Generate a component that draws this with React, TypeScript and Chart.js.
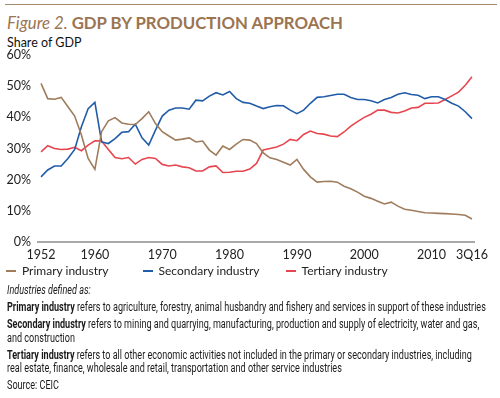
import React, { useEffect, useRef } from "react";
import { Chart, registerables } from "chart.js";

Chart.register(...registerables);

const categories: string[] = [
  "1952","1953","1954","1955","1956","1957","1958","1959","1960","1961",
  "1962","1963","1964","1965","1966","1967","1968","1969","1970","1971",
  "1972","1973","1974","1975","1976","1977","1978","1979","1980","1981",
  "1982","1983","1984","1985","1986","1987","1988","1989","1990","1991",
  "1992","1993","1994","1995","1996","1997","1998","1999","2000","2001",
  "2002","2003","2004","2005","2006","2007","2008","2009","2010","2011",
  "2012","2013","2014","2015","3Q16",
];

const xTickLabels: string[] = ["1952", "1960", "1970", "1980", "1990", "2000", "2010", "3Q16"];

const primaryIndustry: number[] = [
  50.9, 46.0, 45.8, 46.4, 43.4, 40.4, 34.3, 26.8, 23.3, 35.4,
  38.9, 39.9, 38.2, 37.8, 37.7, 39.6, 41.8, 38.0, 35.4, 34.0,
  32.7, 33.0, 33.4, 32.1, 32.4, 29.5, 27.9, 30.8, 29.7, 31.4,
  32.9, 32.7, 31.6, 28.6, 27.0, 26.5, 25.6, 24.7, 26.5, 23.3,
  20.9, 19.2, 19.4, 19.5, 19.2, 17.9, 17.1, 16.0, 14.7, 14.0,
  13.1, 12.2, 12.8, 11.5, 10.5, 10.2, 9.8, 9.4, 9.3, 9.2,
  9.1, 9.0, 8.8, 8.6, 7.4,
];

const secondaryIndustry: number[] = [
  20.9, 23.1, 24.4, 24.4, 26.8, 29.7, 37.0, 42.8, 44.8, 32.1,
  31.6, 33.2, 35.2, 35.4, 37.8, 33.4, 31.1, 35.9, 40.4, 42.3,
  43.0, 43.0, 42.6, 45.5, 45.3, 46.8, 47.9, 47.2, 48.3, 46.0,
  44.8, 44.5, 43.6, 42.8, 43.4, 43.8, 43.7, 42.3, 41.2, 42.3,
  44.5, 46.4, 46.6, 47.0, 47.4, 47.4, 46.4, 45.7, 45.7, 45.3,
  44.6, 45.7, 46.4, 47.4, 47.9, 47.3, 47.1, 46.0, 46.6, 46.6,
  45.7, 44.5, 43.6, 41.8, 39.6,
];

const tertiaryIndustry: number[] = [
  28.9, 30.9, 30.0, 29.7, 29.8, 30.4, 29.3, 31.1, 32.5, 32.4,
  29.7, 27.1, 26.7, 27.1, 25.0, 26.5, 27.1, 26.8, 24.9, 24.4,
  24.7, 24.1, 23.8, 22.8, 22.8, 24.1, 24.4, 22.3, 22.4, 22.7,
  22.7, 23.4, 25.2, 29.5, 30.0, 30.5, 31.4, 32.9, 32.5, 34.5,
  35.6, 34.8, 34.6, 34.0, 33.8, 35.3, 37.2, 38.6, 40.0, 41.0,
  42.3, 42.3, 41.6, 41.4, 42.0, 43.0, 43.2, 44.5, 44.5, 44.6,
  45.7, 46.9, 48.1, 50.3, 53.0,
];

const seriesNames: string[] = ["Primary industry", "Secondary industry", "Tertiary industry"];
const seriesColors: string[] = ["#9f7c5c", "#215ca8", "#e6464f"];

const FONT = "Lato, 'Open Sans', sans-serif";
const NOTE_FONT = "Roboto, 'Noto Sans', sans-serif";

const axisLinePlugin = {
  id: "axisLine",
  beforeDatasetsDraw(chart: any) {
    const { ctx, chartArea } = chart;
    ctx.save();
    ctx.strokeStyle = "#a9a9a9";
    ctx.lineWidth = 2;
    ctx.beginPath();
    ctx.moveTo(chartArea.left - 4, chartArea.bottom);
    ctx.lineTo(chartArea.right + 3, chartArea.bottom);
    ctx.stroke();
    ctx.restore();
  },
};

function LineChart() {
  const ref = useRef<HTMLCanvasElement | null>(null);
  useEffect(() => {
    if (!ref.current) return;
    const series = [primaryIndustry, secondaryIndustry, tertiaryIndustry];
    const chart = new Chart(ref.current, {
      type: "line",
      data: {
        labels: categories,
        datasets: series.map((d, i) => ({
          label: seriesNames[i],
          data: d,
          borderColor: seriesColors[i],
          backgroundColor: seriesColors[i],
          borderWidth: 1.6,
          pointRadius: 0,
          tension: 0,
          fill: false,
        })),
      },
      options: {
        animation: false,
        responsive: false,
        maintainAspectRatio: false,
        layout: { padding: { top: 55, left: 6, right: 28, bottom: 3 } },
        plugins: {
          legend: { display: false },
          tooltip: { enabled: false },
        },
        scales: {
          x: {
            type: "category",
            offset: false,
            grid: { display: false, drawTicks: false },
            border: { display: false },
            afterFit: (s: any) => { s.height = 20; },
            ticks: {
              autoSkip: false,
              maxRotation: 0,
              minRotation: 0,
              padding: 5,
              color: "#222",
              font: { family: FONT, size: 12.5 },
              callback: function (this: any, _v: any, idx: number) {
                const lab = categories[idx];
                return xTickLabels.includes(lab) ? lab : "";
              },
            },
          },
          y: {
            min: 0,
            max: 60,
            grid: { display: false, drawTicks: false },
            border: { display: false },
            afterFit: (s: any) => { s.width = 35; },
            ticks: {
              stepSize: 10,
              padding: 10,
              color: "#222",
              font: { family: FONT, size: 12.5 },
              callback: (v: any) => v + "%",
            },
          },
        },
      },
      plugins: [axisLinePlugin],
    });
    return () => chart.destroy();
  }, []);
  return (
    <canvas
      ref={ref}
      width={500}
      height={265}
      style={{ position: "absolute", left: 0, top: 0, width: 500, height: 265 }}
    />
  );
}

export default function App() {
  const brown = "#9b7452";
  const noteLine: React.CSSProperties = {
    position: "absolute",
    left: 7,
    fontFamily: NOTE_FONT,
    fontSize: 12,
    lineHeight: "14px",
    color: "#1a1a1a",
    whiteSpace: "nowrap",
    transform: "scaleX(0.755)",
    transformOrigin: "0 0",
  };
  return (
    <div style={{ position: "absolute", left: 0, top: 0, width: 500, height: 398, background: "#fff", overflow: "hidden" }}>
      <div style={{ position: "absolute", left: 5, top: 4, width: 492, height: 0, borderTop: "1.5px solid #a58a6e" }} />
      <div style={{ position: "absolute", left: 7, top: 12, fontFamily: FONT, fontSize: 16.8, color: brown, whiteSpace: "nowrap" }}>
        <span style={{ fontStyle: "italic" }}>Figure 2. </span>
        <span style={{ fontWeight: 700 }}>GDP BY PRODUCTION APPROACH</span>
      </div>
      <div style={{ position: "absolute", left: 7, top: 35, fontFamily: FONT, fontSize: 12.5, color: "#111" }}>Share of GDP</div>
      <LineChart />
      <div style={{ position: "absolute", left: 6, top: 263, fontFamily: FONT, fontSize: 12, color: "#222", display: "flex", whiteSpace: "nowrap" }}>
        {seriesNames.map((n, i) => (
          <div key={n} style={{ display: "flex", alignItems: "center", marginRight: i === 0 ? 34 : 26 }}>
            <span style={{ display: "inline-block", width: 10, height: 2, background: seriesColors[i], marginRight: 6 }} />
            <span>{n}</span>
          </div>
        ))}
      </div>
      <div style={{ ...noteLine, top: 283, fontStyle: "italic" }}>Industries defined as:</div>
      <div style={{ ...noteLine, top: 300 }}>
        <b>Primary industry</b> refers to agriculture, forestry, animal husbandry and fishery and services in support of these industries
      </div>
      <div style={{ ...noteLine, top: 317 }}>
        <b>Secondary industry</b> refers to mining and quarrying, manufacturing, production and supply of electricity, water and gas,
      </div>
      <div style={{ ...noteLine, top: 331 }}>and construction</div>
      <div style={{ ...noteLine, top: 348 }}>
        <b>Tertiary industry</b> refers to all other economic activities not included in the primary or secondary industries, including
      </div>
      <div style={{ ...noteLine, top: 361 }}>real estate, finance, wholesale and retail, transportation and other service industries</div>
      <div style={{ ...noteLine, top: 378 }}>Source: CEIC</div>
    </div>
  );
}
